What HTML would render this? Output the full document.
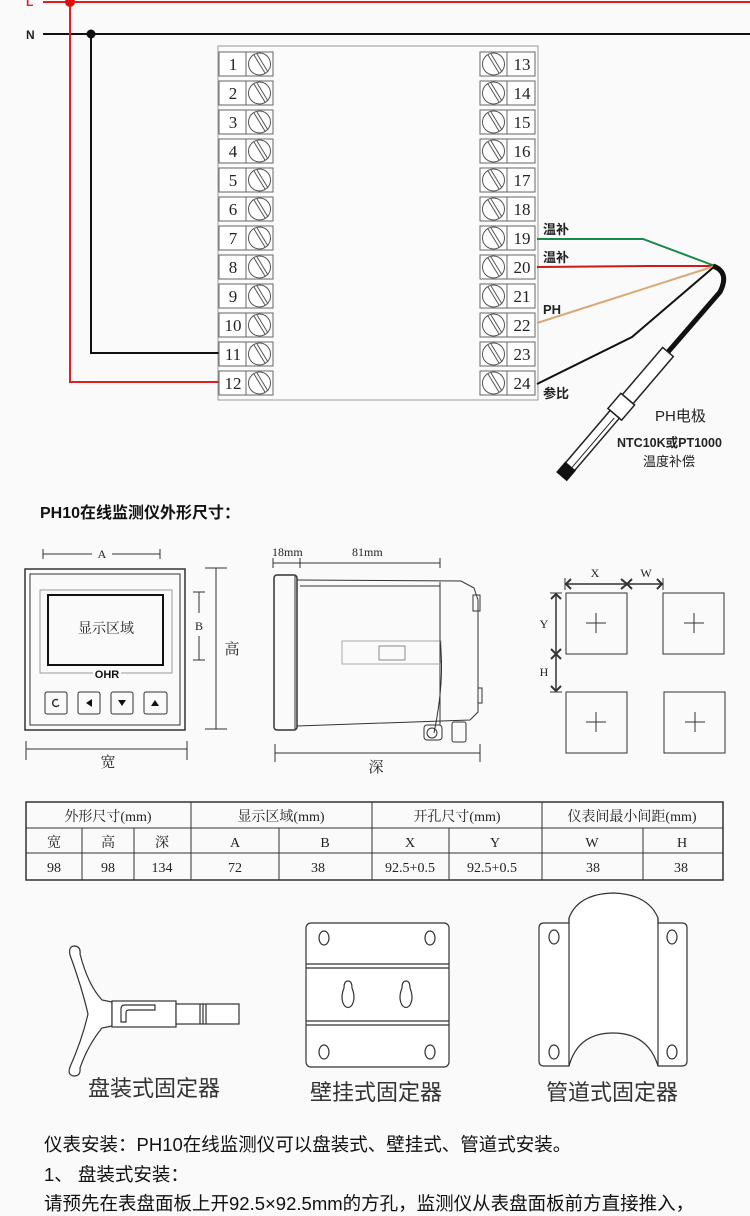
<!DOCTYPE html>
<html><head><meta charset="utf-8"><style>
html,body{margin:0;padding:0;background:#fafafa;}
svg{display:block;}
.s{font-family:"Liberation Serif","Noto Serif CJK SC",serif;}
.a{font-family:"Liberation Sans","Noto Sans CJK SC",sans-serif;}
</style></head><body>
<svg width="750" height="1216" viewBox="0 0 750 1216" xmlns="http://www.w3.org/2000/svg">
<defs>
<g id="scr"><rect x="0" y="0" width="27" height="24" fill="#fff" stroke="#666"/><circle cx="13.5" cy="12" r="11" fill="none" stroke="#555"/><line x1="8" y1="3" x2="19" y2="21" stroke="#555"/><line x1="11" y1="2" x2="22" y2="20" stroke="#555"/></g>
<rect id="cell" x="0" y="0" width="28" height="24" fill="#fff" stroke="#666"/>
</defs>
<rect width="750" height="1216" fill="#fafafa"/>
<text x="26" y="6" class="a" font-size="12" font-weight="bold" fill="#d22">L</text>
<text x="26" y="39" class="a" font-size="12" font-weight="bold" fill="#222">N</text>
<line x1="43" y1="2" x2="750" y2="2" stroke="#e02020" stroke-width="2"/>
<line x1="43" y1="34" x2="750" y2="34" stroke="#111" stroke-width="2"/>
<rect x="218" y="46" width="320" height="354" fill="#fbfbfb" stroke="#999" stroke-width="1"/>
<polyline points="70,2 70,382 219,382" fill="none" stroke="#e02020" stroke-width="2"/>
<polyline points="91,34 91,353 219,353" fill="none" stroke="#111" stroke-width="2"/>
<circle cx="70" cy="2" r="5" fill="#e01010"/>
<circle cx="91" cy="34" r="4.5" fill="#111"/>
<g>
<use href="#cell" x="219" y="52"/><use href="#scr" x="246" y="52"/>
<use href="#cell" x="219" y="81"/><use href="#scr" x="246" y="81"/>
<use href="#cell" x="219" y="110"/><use href="#scr" x="246" y="110"/>
<use href="#cell" x="219" y="139"/><use href="#scr" x="246" y="139"/>
<use href="#cell" x="219" y="168"/><use href="#scr" x="246" y="168"/>
<use href="#cell" x="219" y="197"/><use href="#scr" x="246" y="197"/>
<use href="#cell" x="219" y="226"/><use href="#scr" x="246" y="226"/>
<use href="#cell" x="219" y="255"/><use href="#scr" x="246" y="255"/>
<use href="#cell" x="219" y="284"/><use href="#scr" x="246" y="284"/>
<use href="#cell" x="219" y="313"/><use href="#scr" x="246" y="313"/>
<use href="#cell" x="219" y="342"/><use href="#scr" x="246" y="342"/>
<use href="#cell" x="219" y="371"/><use href="#scr" x="246" y="371"/>
<use href="#scr" x="480" y="52"/><use href="#cell" x="507" y="52"/>
<use href="#scr" x="480" y="81"/><use href="#cell" x="507" y="81"/>
<use href="#scr" x="480" y="110"/><use href="#cell" x="507" y="110"/>
<use href="#scr" x="480" y="139"/><use href="#cell" x="507" y="139"/>
<use href="#scr" x="480" y="168"/><use href="#cell" x="507" y="168"/>
<use href="#scr" x="480" y="197"/><use href="#cell" x="507" y="197"/>
<use href="#scr" x="480" y="226"/><use href="#cell" x="507" y="226"/>
<use href="#scr" x="480" y="255"/><use href="#cell" x="507" y="255"/>
<use href="#scr" x="480" y="284"/><use href="#cell" x="507" y="284"/>
<use href="#scr" x="480" y="313"/><use href="#cell" x="507" y="313"/>
<use href="#scr" x="480" y="342"/><use href="#cell" x="507" y="342"/>
<use href="#scr" x="480" y="371"/><use href="#cell" x="507" y="371"/>
</g>
<g class="s" font-size="17" fill="#222" text-anchor="middle">
<text x="233" y="70">1</text><text x="233" y="99">2</text><text x="233" y="128">3</text><text x="233" y="157">4</text><text x="233" y="186">5</text><text x="233" y="215">6</text><text x="233" y="244">7</text><text x="233" y="273">8</text><text x="233" y="302">9</text><text x="233" y="331">10</text><text x="233" y="360">11</text><text x="233" y="389">12</text>
<text x="522" y="70">13</text><text x="522" y="99">14</text><text x="522" y="128">15</text><text x="522" y="157">16</text><text x="522" y="186">17</text><text x="522" y="215">18</text><text x="522" y="244">19</text><text x="522" y="273">20</text><text x="522" y="302">21</text><text x="522" y="331">22</text><text x="522" y="360">23</text><text x="522" y="389">24</text>
</g>
<polyline points="537,239 643,239 715,266" fill="none" stroke="#1a8a4a" stroke-width="2"/>
<polyline points="537,267 650,266 715,266" fill="none" stroke="#d01818" stroke-width="2"/>
<line x1="537" y1="323" x2="715" y2="266" stroke="#d9a878" stroke-width="2"/>
<polyline points="537,384 632,337 715,266" fill="none" stroke="#111" stroke-width="2"/>
<path d="M713,266 Q730,272 720,292 L668,352" fill="none" stroke="#111" stroke-width="5"/>
<g transform="translate(668,352) rotate(130.5)">
<rect x="0" y="-7" width="62" height="14" fill="#fff" stroke="#222" stroke-width="1.5"/>
<rect x="62" y="-9" width="20" height="18" fill="#fff" stroke="#222" stroke-width="1.5"/>
<rect x="82" y="-6" width="70" height="12" fill="#fff" stroke="#222" stroke-width="1.5"/>
<line x1="85" y1="-2" x2="150" y2="-2" stroke="#222" stroke-width="1"/>
<rect x="150" y="-7" width="14" height="14" fill="#111"/>
</g>
<g class="a" font-size="13" fill="#222" font-weight="bold">
<text x="543" y="234">温补</text><text x="543" y="262">温补</text><text x="543" y="314">PH</text><text x="543" y="398">参比</text>
</g>
<text x="655" y="421" class="a" font-size="15" fill="#222">PH电极</text>
<text x="617" y="447" class="a" font-size="12.5" fill="#222" font-weight="bold">NTC10K或PT1000</text>
<text x="643" y="466" class="a" font-size="13" fill="#222">温度补偿</text>
<text x="40" y="518" class="a" font-size="16" font-weight="bold" fill="#111">PH10在线监测仪外形尺寸：</text>
<g stroke="#333" fill="none" stroke-width="1">
<line x1="43" y1="549" x2="43" y2="559"/><line x1="160" y1="549" x2="160" y2="559"/>
<line x1="43" y1="554" x2="92" y2="554"/><line x1="112" y1="554" x2="160" y2="554"/>
<rect x="25" y="569" width="160" height="161" stroke-width="1.5"/>
<rect x="30" y="574" width="150" height="151"/>
<rect x="40" y="590" width="132" height="83" stroke="#999"/>
<rect x="48" y="595" width="115" height="70" stroke="#111" stroke-width="2"/>
<line x1="193" y1="592" x2="205" y2="592"/><line x1="193" y1="660" x2="205" y2="660"/><line x1="199" y1="592" x2="199" y2="613"/><line x1="199" y1="636" x2="199" y2="660"/>
<line x1="205" y1="568" x2="227" y2="568"/><line x1="205" y1="729" x2="227" y2="729"/><line x1="216" y1="568" x2="216" y2="729"/>
<line x1="26" y1="741" x2="26" y2="760"/><line x1="187" y1="741" x2="187" y2="760"/><line x1="26" y1="749" x2="187" y2="749"/>
<rect x="45" y="692" width="22" height="22" rx="2"/><rect x="78" y="692" width="22" height="22" rx="2"/><rect x="111" y="692" width="22" height="22" rx="2"/><rect x="144" y="692" width="23" height="22" rx="2"/>
<path d="M58,700 A3.5,3.5 0 1 0 59,705" stroke-width="1.5"/>
</g>
<polygon points="92,699 92,707 86,703" fill="#111"/>
<polygon points="118,700 126,700 122,706" fill="#111"/>
<polygon points="151,706 159,706 155,700" fill="#111"/>
<rect x="93" y="668" width="28" height="12" fill="#fafafa"/>
<text x="107" y="678" text-anchor="middle" class="a" font-size="11" font-weight="bold" fill="#111">OHR</text>
<text x="106" y="633" text-anchor="middle" class="s" font-size="14" fill="#222">显示区域</text>
<text x="102" y="558" text-anchor="middle" class="s" font-size="12" fill="#222">A</text>
<text x="199" y="630" text-anchor="middle" class="s" font-size="12" fill="#222">B</text>
<text x="232" y="654" text-anchor="middle" class="s" font-size="15" fill="#222">高</text>
<text x="108" y="767" text-anchor="middle" class="s" font-size="15" fill="#222">宽</text>
<g stroke="#333" fill="none" stroke-width="1">
<line x1="273" y1="558" x2="273" y2="568"/><line x1="300" y1="558" x2="300" y2="568"/><line x1="440" y1="558" x2="440" y2="568"/>
<line x1="273" y1="563" x2="440" y2="563"/>
<rect x="274" y="575" width="23" height="155" rx="3" stroke-width="1.5"/>
<line x1="295" y1="576" x2="295" y2="729"/>
<path d="M297,580 L461,581 L474,588 L478,600 L478,712 L470,720 L297,726"/>
<line x1="300" y1="586" x2="440" y2="586"/>
<line x1="440" y1="582" x2="440" y2="725"/>
<rect x="473" y="595" width="7" height="16"/>
<rect x="478" y="688" width="4" height="15"/>
<rect x="342" y="641" width="99" height="23" stroke="#aaa"/>
<rect x="379" y="646" width="26" height="14" stroke="#888"/>
<path d="M440,640 Q445,680 434,733"/>
<circle cx="432" cy="733" r="5"/>
<rect x="424" y="725" width="18" height="15" rx="3"/>
<rect x="452" y="722" width="14" height="20" rx="2"/>
<line x1="275" y1="744" x2="275" y2="762"/><line x1="480" y1="744" x2="480" y2="762"/><line x1="275" y1="753" x2="480" y2="753"/>
</g>
<text x="272" y="556" class="s" font-size="12" fill="#222">18mm</text>
<text x="352" y="556" class="s" font-size="12" fill="#222">81mm</text>
<text x="376" y="772" text-anchor="middle" class="s" font-size="15" fill="#222">深</text>
<g stroke="#333" fill="none" stroke-width="1">
<rect x="566" y="593" width="61" height="61"/><rect x="663" y="593" width="61" height="61"/>
<rect x="566" y="692" width="61" height="61"/><rect x="664" y="692" width="61" height="61"/>
<path d="M586,623 h20 M596,613 v20 M684,623 h20 M694,613 v20 M586,722 h20 M596,712 v20 M685,722 h20 M695,712 v20"/>
<line x1="565" y1="578" x2="565" y2="590"/><line x1="663" y1="578" x2="663" y2="590"/>
<line x1="566" y1="584" x2="662" y2="584" stroke-width="1.5"/>
<path d="M571,579 L566,584 L571,589 M621,579 L627,584 L621,589 M632,579 L627,584 L632,589 M657,579 L662,584 L657,589" stroke-width="2"/>
<line x1="550" y1="593" x2="562" y2="593"/><line x1="550" y1="692" x2="562" y2="692"/>
<line x1="556" y1="594" x2="556" y2="691" stroke-width="1.5"/>
<path d="M551,599 L556,594 L561,599 M551,649 L556,654 L561,649 M551,659 L556,654 L561,659 M551,686 L556,691 L561,686" stroke-width="2"/>
</g>
<text x="595" y="577" text-anchor="middle" class="s" font-size="12" fill="#222">X</text>
<text x="646" y="577" text-anchor="middle" class="s" font-size="12" fill="#222">W</text>
<text x="544" y="628" text-anchor="middle" class="s" font-size="12" fill="#222">Y</text>
<text x="544" y="676" text-anchor="middle" class="s" font-size="12" fill="#222">H</text>
<g stroke="#333" fill="none" stroke-width="1">
<rect x="26" y="802" width="697" height="78" stroke-width="1.5"/>
<line x1="26" y1="828" x2="723" y2="828"/><line x1="26" y1="853" x2="723" y2="853"/>
<line x1="191" y1="802" x2="191" y2="880"/><line x1="372" y1="802" x2="372" y2="880"/><line x1="542" y1="802" x2="542" y2="880"/>
<line x1="82" y1="828" x2="82" y2="880"/><line x1="134" y1="828" x2="134" y2="880"/><line x1="279" y1="828" x2="279" y2="880"/><line x1="449" y1="828" x2="449" y2="880"/><line x1="643" y1="828" x2="643" y2="880"/>
</g>
<g class="s" font-size="14" fill="#222" text-anchor="middle">
<text x="108" y="821">外形尺寸(mm)</text><text x="281" y="821">显示区域(mm)</text><text x="457" y="821">开孔尺寸(mm)</text><text x="632" y="821">仪表间最小间距(mm)</text>
<text x="54" y="847">宽</text><text x="108" y="847">高</text><text x="162" y="847">深</text><text x="235" y="847">A</text><text x="325" y="847">B</text><text x="410" y="847">X</text><text x="495" y="847">Y</text><text x="592" y="847">W</text><text x="682" y="847">H</text>
<text x="54" y="872">98</text><text x="108" y="872">98</text><text x="162" y="872">134</text><text x="235" y="872">72</text><text x="318" y="872">38</text><text x="410" y="872">92.5+0.5</text><text x="492" y="872">92.5+0.5</text><text x="593" y="872">38</text><text x="681" y="872">38</text>
</g>
<!-- panel bracket -->
<g stroke="#333" fill="#fff" stroke-width="1.2">
<path d="M70,955 Q68,946 75,946 Q81,947 80,954 Q88,985 102,1000 L112,1002 L112,1026 L102,1028 Q88,1045 80,1068 Q81,1076 74,1076 Q67,1075 70,1067 Q82,1040 88,1014 Q82,988 70,955 Z"/>
<rect x="112" y="1001" width="64" height="26"/>
<rect x="176" y="1004" width="63" height="20"/>
<path d="M121,1022 V1009 Q121,1005 125,1005 H155 V1010 H129 Q126,1010 126,1013 V1022 Z" fill="none"/>
<line x1="200" y1="1004" x2="200" y2="1024"/><line x1="203" y1="1004" x2="203" y2="1024"/><line x1="206" y1="1004" x2="206" y2="1024"/>
</g>
<!-- wall plate -->
<g stroke="#333" fill="none" stroke-width="1.2">
<rect x="306" y="923" width="143" height="144" rx="5" fill="#fff"/>
<line x1="306" y1="964" x2="449" y2="964"/><line x1="306" y1="968" x2="449" y2="968"/>
<line x1="306" y1="1021" x2="449" y2="1021"/><line x1="306" y1="1025" x2="449" y2="1025"/>
<ellipse cx="324" cy="938" rx="5" ry="7"/><ellipse cx="430" cy="938" rx="5" ry="7"/><ellipse cx="324" cy="1052" rx="5" ry="7"/><ellipse cx="430" cy="1052" rx="5" ry="7"/>
<path d="M344,988 Q344,981 348,981 Q352,981 352,988 Q356,998 352,1005 Q348,1010 344,1005 Q340,998 344,988 Z"/>
<path d="M402,988 Q402,981 406,981 Q410,981 410,988 Q414,998 410,1005 Q406,1010 402,1005 Q398,998 402,988 Z"/>
</g>
<!-- pipe bracket -->
<g stroke="#333" fill="none" stroke-width="1.2">
<path d="M544,923 H569 V918 Q578,894 613,893 Q648,894 658,918 V923 H682 Q687,923 687,928 V1061 Q687,1066 682,1066 H658 Q648,1033 613,1033 Q578,1033 569,1066 H544 Q539,1066 539,1061 V928 Q539,923 544,923 Z" fill="#fff"/>
<line x1="569" y1="918" x2="569" y2="1066"/><line x1="658" y1="918" x2="658" y2="1066"/>
<ellipse cx="554" cy="937" rx="5" ry="7"/><ellipse cx="672" cy="937" rx="5" ry="7"/><ellipse cx="554" cy="1052" rx="5" ry="7"/><ellipse cx="672" cy="1052" rx="5" ry="7"/>
</g>
<g class="a" font-size="22" fill="#333" text-anchor="middle">
<text x="154" y="1096">盘装式固定器</text><text x="376" y="1100">壁挂式固定器</text><text x="612" y="1100">管道式固定器</text>
</g>
<g class="a" font-size="18.5" fill="#111">
<text x="44" y="1151">仪表安装：PH10在线监测仪可以盘装式、壁挂式、管道式安装。</text>
<text x="44" y="1181">1、 盘装式安装：</text>
<text x="44" y="1210">请预先在表盘面板上开92.5×92.5mm的方孔，监测仪从表盘面板前方直接推入，</text>
</g>
</svg>
</body></html>
